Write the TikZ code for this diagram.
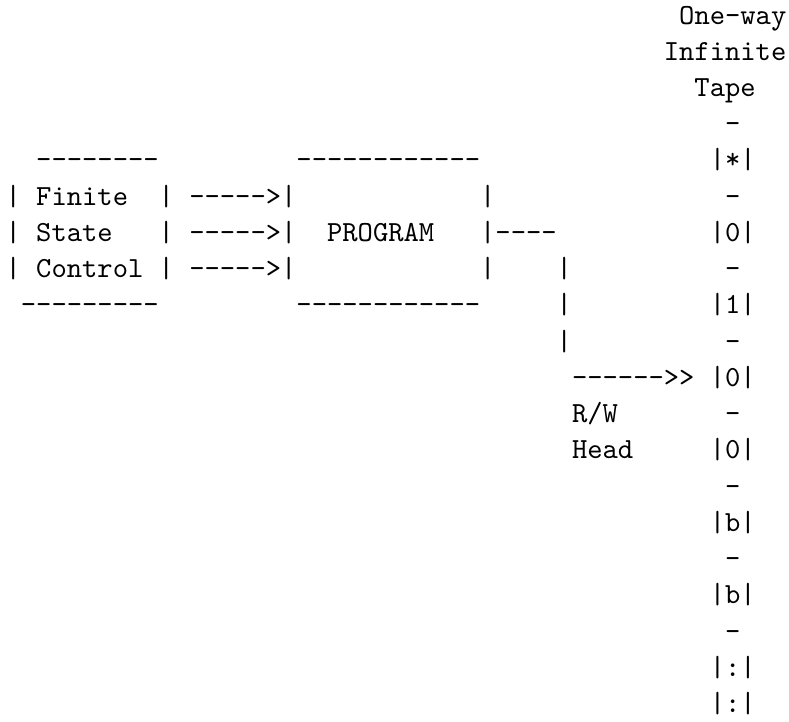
\documentclass[tikz,border=0pt]{standalone}
\begin{document}
\begin{tikzpicture}[x=5.25pt,y=-12.428pt,
  asc/.style={font=\fontsize{10}{12.4}\selectfont\ttfamily,
    anchor=base west, inner sep=0pt, outer sep=0pt}]
\useasboundingbox (-1.92pt,8.23pt) rectangle ++(270.58pt,-247.26pt);
% tape heading
\node[asc] (hd1) at (44,0) {One-way};
\node[asc] (hd2) at (43,1) {Infinite};
\node[asc] (hd3) at (45,2) {Tape};
% finite state control box
\node[asc] (fsctop) at (2,4) {--------};
\node[asc] (fsc1l) at (0,5) {|};
\node[asc] (fsc1) at (2,5) {Finite};
\node[asc] (fsc1r) at (10,5) {|};
\node[asc] (fsc2l) at (0,6) {|};
\node[asc] (fsc2) at (2,6) {State};
\node[asc] (fsc2r) at (10,6) {|};
\node[asc] (fsc3l) at (0,7) {|};
\node[asc] (fsc3) at (2,7) {Control};
\node[asc] (fsc3r) at (10,7) {|};
\node[asc] (fscbot) at (1,8) {---------};
% arrows into the program
\node[asc] (arr1) at (12,5) {----->|};
\node[asc] (arr2) at (12,6) {----->|};
\node[asc] (arr3) at (12,7) {----->|};
% program box
\node[asc] (prgtop) at (19,4) {------------};
\node[asc] (prg1r) at (31,5) {|};
\node[asc] (prg) at (21,6) {PROGRAM};
\node[asc] (prg2r) at (31,6) {|----};
\node[asc] (prg3r) at (31,7) {|};
\node[asc] (prgbot) at (19,8) {------------};
% link down to the read/write head
\node[asc] (lnk1) at (36,7) {|};
\node[asc] (lnk2) at (36,8) {|};
\node[asc] (lnk3) at (36,9) {|};
\node[asc] (head) at (37,10) {------>>};
\node[asc] (rw1) at (37,11) {R/W};
\node[asc] (rw2) at (37,12) {Head};
% tape cells
\node[asc] (t0) at (47,3) {-};
\node[asc] (c1) at (46,4) {|*|};
\node[asc] (t1) at (47,5) {-};
\node[asc] (c2) at (46,6) {|0|};
\node[asc] (t2) at (47,7) {-};
\node[asc] (c3) at (46,8) {|1|};
\node[asc] (t3) at (47,9) {-};
\node[asc] (c4) at (46,10) {|0|};
\node[asc] (t4) at (47,11) {-};
\node[asc] (c5) at (46,12) {|0|};
\node[asc] (t5) at (47,13) {-};
\node[asc] (c6) at (46,14) {|b|};
\node[asc] (t6) at (47,15) {-};
\node[asc] (c7) at (46,16) {|b|};
\node[asc] (t7) at (47,17) {-};
\node[asc] (c8) at (46,18) {|:|};
\node[asc] (c9) at (46,19) {|:|};
\end{tikzpicture}
\end{document}
